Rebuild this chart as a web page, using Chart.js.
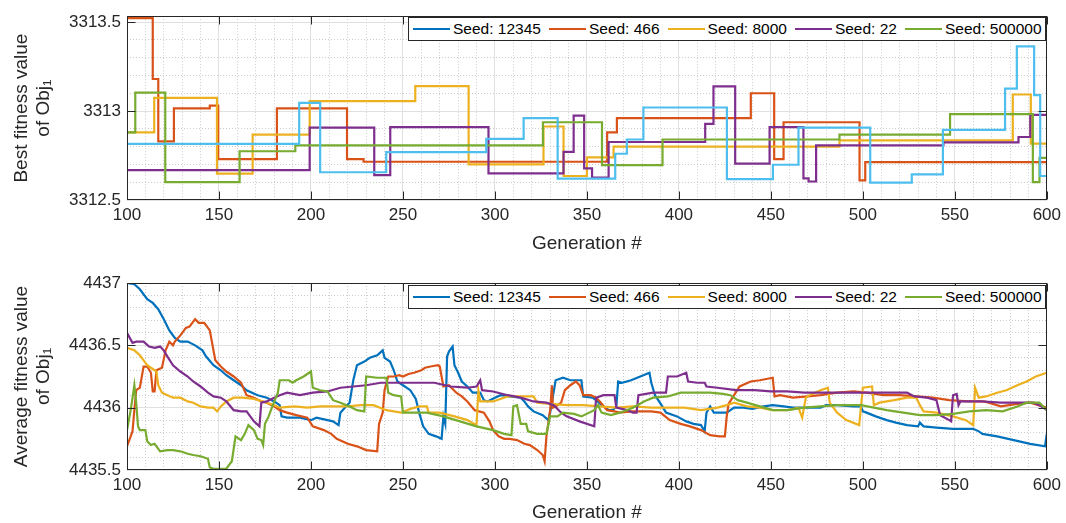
<!DOCTYPE html>
<html>
<head>
<meta charset="utf-8">
<script src="https://cdn.jsdelivr.net/npm/chart.js@4.4.0/dist/chart.umd.min.js"></script>
<style>
  body { margin: 0; background: #fff; width: 1066px; height: 523px; overflow: hidden;
         font-family: "Liberation Sans", Arial, Helvetica, sans-serif; }
  canvas { position: absolute; left: 0; }
  #bestChart { top: 0; }
  #avgChart { top: 262px; }
  .legend { position: absolute; left: 408px; width: 638px; height: 24px; box-sizing: border-box;
            border: 1px solid #262626; background: #fff; display: flex; align-items: center;
            padding-left: 4px; }
  #bestLegend { top: 17px; }
  #avgLegend { top: 285px; }
  .legend .item { display: flex; align-items: center; margin-right: 8px; white-space: nowrap;
                  font-size: 15.5px; color: #000; }
  .legend .item i { display: inline-block; width: 37px; height: 2px; margin-right: 3px; }
</style>
</head>
<body>
<canvas id="bestChart" width="1066" height="255"></canvas>
<canvas id="avgChart" width="1066" height="262"></canvas>
<div class="legend" id="bestLegend"></div>
<div class="legend" id="avgLegend"></div>
<script>
const seedLabels = ["Seed: 12345", "Seed: 466", "Seed: 8000", "Seed: 22", "Seed: 500000"];
const seedColors = ["#0072BD", "#D95319", "#EDB120", "#7E2F8E", "#77AC30"];
const cyan = "#4DBEEE";

const xTicks = [100, 150, 200, 250, 300, 350, 400, 450, 500, 550, 600];
const bestTicks = [3312.5, 3313, 3313.5];
const avgTicks = [4435.5, 4436, 4436.5, 4437];

// best fitness: generation where each level starts, and the level
const bestGen12345 = [100,193.6,205,240.9,295.3,315.6,334.1,365.4,371.7,380.7,426.1,451.1,465,504,526.6,543.5,577.3,583.7,593.1,596.4,600];
const best12345 = [3312.815,3313.046,3312.656,3312.769,3312.844,3312.96,3312.62,3312.76,3312.84,3313.02,3312.617,3312.698,3312.907,3312.598,3312.644,3312.894,3313.126,3313.363,3313.089,3312.635,3312.635];
const bestGen466 = [100,114,117,125.5,145,149.6,181.5,219.6,228.6,361,366.3,439.1,451.8,456.9,498.2,501.3,600];
const best466 = [3313.522,3313.18,3312.83,3313.015,3313.03,3312.73,3313.015,3312.73,3312.715,3312.88,3312.96,3313.10,3312.73,3312.937,3312.61,3312.713,3312.713];
const bestGen8000 = [100,114.8,148.9,168.3,199.3,256.7,285.7,326.4,337.3,350,364.5,487.3,581.5,591.3,600];
const best8000 = [3312.88,3313.074,3312.648,3312.867,3313.056,3313.14,3312.70,3312.913,3312.635,3312.74,3312.80,3312.835,3313.093,3312.817,3312.817];
const bestGen22 = [100,199.3,234.4,243.1,296.5,337.3,342.8,348.5,352.8,361.8,414.3,418.8,430.6,449.3,467.7,470.5,474.6,543.8,584.6,591,600];
const best22 = [3312.668,3312.907,3312.64,3312.91,3312.65,3312.77,3312.974,3312.678,3312.626,3312.826,3312.928,3313.139,3312.704,3312.91,3312.622,3312.604,3312.807,3312.824,3312.854,3312.978,3312.978];
const bestGen500000 = [100,104.5,120.8,161.2,191.5,326.1,358.2,391.1,487.3,547.4,592.4,596,600];
const best500000 = [3312.88,3313.104,3312.60,3312.774,3312.807,3312.937,3312.696,3312.84,3312.867,3312.983,3312.60,3312.737,3312.737];

// average fitness
const avgGen12345 = [100,104,107,111,114,117,120,123,126,129,133,137,141,143,147,151,154,158,162,165,171,176,180,183,184,187,194,200,203,209,212,215,216,219,221,223,225,229,232,236,239,240,243,245,247,250,254,257,259,261,264,268,271,272,273,274,275,277,278,280,282,285,288,292,294,296,300,303,308,314,316,318,321,326,329,330,333,337,341,347,348,353,355,358,362,364,366,367,369,374,379,384,385,387,391,393,399,404,408,412,414,415,417,419,426,430,435,440,446,451,457,462,470,477,480,486,495,499,500,502,507,513,518,524,530,531,533,540,549,560,563,565,573,582,591,599,600];
const avg12345 = [4437.00,4436.99,4436.95,4436.87,4436.84,4436.79,4436.71,4436.62,4436.56,4436.53,4436.53,4436.50,4436.46,4436.41,4436.34,4436.30,4436.26,4436.22,4436.18,4436.14,4436.10,4436.08,4436.05,4436.02,4435.93,4435.92,4435.92,4435.90,4435.92,4435.90,4435.89,4435.86,4435.96,4436.01,4436.04,4436.22,4436.34,4436.37,4436.40,4436.42,4436.46,4436.40,4436.37,4436.30,4436.21,4436.18,4436.14,4436.07,4435.95,4435.85,4435.79,4435.77,4435.75,4435.93,4435.87,4436.41,4436.45,4436.49,4436.34,4436.28,4436.21,4436.17,4436.12,4436.12,4436.06,4436.05,4436.08,4436.10,4436.09,4436.08,4436.05,4436.01,4435.97,4435.94,4435.90,4435.96,4436.22,4436.24,4436.22,4436.22,4436.09,4436.08,4436.06,4436.02,4435.98,4435.98,4436.01,4436.21,4436.20,4436.22,4436.25,4436.28,4436.20,4436.10,4436.01,4435.96,4435.93,4435.89,4435.87,4435.86,4435.81,4435.96,4436.01,4435.96,4435.96,4436.00,4436.00,4435.99,4436.01,4436.02,4436.01,4436.00,4436.00,4436.00,4436.02,4436.02,4436.01,4436.01,4435.97,4435.96,4435.93,4435.90,4435.88,4435.86,4435.85,4435.88,4435.85,4435.84,4435.83,4435.83,4435.81,4435.79,4435.77,4435.74,4435.71,4435.69,4435.79];
const avgGen466 = [100,103,104,105,107,109,111,113,114,115,116,119,121,123,125,126,129,132,134,137,139,142,145,148,151,154,158,162,165,169,173,176,180,183,187,192,198,201,207,211,214,220,225,230,236,237,239,240,242,245,248,250,253,256,260,262,265,269,270,272,275,279,282,285,289,294,297,299,302,305,308,312,316,319,323,326,327,328,330,331,331.5,333,336,338,341,344,346,348,352,355,357,361,365,368,374,379,385,390,395,401,406,412,417,422,425,426,427,430,433,439,444,451,452,455,462,470,477,486,495,502,511,520,529,538,547,557,566,575,584,591,600];
const avg466 = [4435.69,4435.81,4435.98,4436.14,4436.16,4436.33,4436.33,4436.28,4436.13,4436.13,4436.30,4436.32,4436.46,4436.53,4436.50,4436.53,4436.58,4436.64,4436.65,4436.71,4436.68,4436.68,4436.62,4436.38,4436.33,4436.29,4436.25,4436.20,4436.10,4436.08,4436.05,4436.04,4436.01,4435.98,4435.96,4435.94,4435.92,4435.85,4435.82,4435.79,4435.75,4435.71,4435.69,4435.66,4435.65,4435.87,4435.96,4436.14,4436.25,4436.25,4436.26,4436.25,4436.27,4436.28,4436.30,4436.32,4436.33,4436.34,4436.33,4436.17,4436.18,4436.12,4436.09,4436.05,4435.98,4435.96,4435.89,4435.82,4435.77,4435.75,4435.75,4435.74,4435.71,4435.70,4435.66,4435.62,4435.57,4435.77,4435.98,4436.18,4436.00,4436.01,4436.04,4436.14,4436.18,4436.21,4436.18,4436.10,4436.10,4436.08,4436.05,4435.98,4435.97,4435.96,4435.97,4435.97,4435.97,4435.96,4435.90,4435.87,4435.85,4435.82,4435.78,4435.77,4435.77,4435.93,4436.03,4436.10,4436.17,4436.21,4436.22,4436.24,4436.09,4436.10,4436.08,4436.09,4436.10,4436.12,4436.13,4436.12,4436.10,4436.10,4436.09,4436.08,4436.06,4436.05,4436.05,4436.01,4436.03,4436.04,4436.00];
const avgGen8000 = [100,104,107,111,115,116,117,119,122,125,129,133,136,140,144,147,149,151,154,158,163,169,174,180,183,191,198,205,212,220,227,234,241,249,254,259,263,264,270,278,285,290,291,292,299,307,314,321,323,330,339,348,357,366,375,385,394,403,412,421,426,430,437,444,451,459,465,467,469,471,477,481,482,486,491,498,500,505,506,509,517,524,529,531,533,540,549,556,560,561,563,567,573,578,584,589,594,596,600];
const avg8000 = [4436.48,4436.46,4436.42,4436.34,4436.30,4436.29,4436.18,4436.12,4436.10,4436.08,4436.08,4436.05,4436.04,4436.01,4436.00,4436.00,4435.97,4436.01,4436.05,4436.08,4436.08,4436.07,4436.05,4436.02,4436.00,4436.01,4436.00,4436.01,4436.01,4436.01,4436.02,4436.02,4435.98,4435.96,4435.99,4436.01,4436.01,4435.96,4435.96,4435.93,4435.90,4435.86,4436.14,4436.05,4436.05,4436.09,4436.09,4436.09,4436.04,4436.03,4436.02,4436.02,4436.01,4436.00,4436.01,4436.00,4436.00,4436.00,4435.98,4436.00,4436.02,4436.04,4436.01,4436.00,4435.98,4435.98,4436.00,4435.92,4436.08,4436.10,4436.14,4436.16,4436.04,4435.96,4435.90,4435.86,4436.16,4436.17,4436.02,4436.04,4436.06,4436.08,4436.08,4436.02,4435.97,4435.96,4435.93,4435.90,4435.86,4436.16,4436.08,4436.09,4436.12,4436.14,4436.18,4436.21,4436.25,4436.26,4436.28];
const avgGen22 = [100,103,105,109,112,115,118,120,122,125,129,133,136,140,144,147,151,154,158,162,165,169,172,173,176,180,183,187,194,201,209,216,223,230,238,245,252,258,267,276,285,290,292,293,299,307,314,321,328,332,336,339,346,354,355,359,365,366,372,375,377,378,386,393,394,399,404,405,410,414,415,421,431,441,450,459,468,477,486,495,504,513,524,528,535,540,542,547,548,549,551,552,553,564,575,585,593,596,600];
const avg22 = [4436.60,4436.52,4436.53,4436.53,4436.49,4436.48,4436.49,4436.46,4436.41,4436.34,4436.29,4436.25,4436.21,4436.17,4436.12,4436.09,4436.08,4436.05,4435.98,4435.97,4435.97,4435.89,4435.85,4436.04,4436.05,4436.08,4436.10,4436.12,4436.10,4436.12,4436.13,4436.16,4436.17,4436.18,4436.20,4436.20,4436.20,4436.20,4436.20,4436.17,4436.16,4436.17,4436.22,4436.14,4436.13,4436.10,4436.08,4436.05,4436.04,4436.02,4435.96,4435.93,4435.89,4435.85,4436.08,4436.10,4436.10,4436.00,4435.98,4435.96,4435.96,4436.10,4436.12,4436.12,4436.25,4436.25,4436.28,4436.21,4436.20,4436.20,4436.17,4436.16,4436.14,4436.14,4436.13,4436.13,4436.12,4436.12,4436.12,4436.12,4436.12,4436.12,4436.12,4436.09,4436.08,4436.06,4435.94,4435.90,4435.89,4436.10,4436.11,4436.02,4436.05,4436.05,4436.04,4436.04,4436.04,4436.02,4435.98];
const avgGen500000 = [100,102,104,105,106,107,110,111,113,115,116,118,122,125,129,133,136,140,144,145,147,151,154,157,159,162,164,166,169,171,173,174,175,177,179,182,183,185,188,190,192,196,200,201,205,209,212,216,221,225,229,230,236,241,242,245,249,250,254,263,272,281,290,299,305,309,310,312,314,317,318,323,328,330,334,337,343,347,354,356,358,363,368,375,381,386,394,401,408,417,424,428,432,437,444,451,459,468,477,486,499,506,513,522,531,540,549,558,567,576,584,589,596,598,600];
const avg500000 = [4435.82,4435.98,4436.18,4436.04,4435.85,4435.82,4435.82,4435.73,4435.70,4435.71,4435.69,4435.65,4435.66,4435.66,4435.65,4435.63,4435.62,4435.61,4435.59,4435.52,4435.51,4435.51,4435.51,4435.57,4435.77,4435.74,4435.79,4435.86,4435.82,4435.75,4435.74,4435.70,4435.87,4435.93,4436.01,4436.12,4436.22,4436.22,4436.22,4436.20,4436.22,4436.25,4436.29,4436.16,4436.14,4436.13,4436.06,4436.04,4436.01,4435.98,4435.97,4436.25,4436.24,4436.24,4436.12,4436.10,4436.09,4435.96,4435.96,4435.96,4435.93,4435.89,4435.85,4435.82,4435.79,4435.78,4436.01,4436.02,4435.87,4435.87,4435.81,4435.79,4435.79,4435.93,4435.93,4435.96,4435.95,4435.93,4435.98,4436.02,4435.96,4435.94,4435.96,4436.00,4436.05,4436.08,4436.09,4436.12,4436.12,4436.12,4436.11,4436.10,4436.06,4436.04,4436.01,4435.98,4435.98,4436.00,4436.01,4436.02,4436.02,4436.00,4435.98,4435.96,4435.94,4435.94,4435.95,4435.97,4435.98,4435.97,4436.01,4436.04,4436.04,4436.01,4435.98];

Chart.defaults.font.family = '"Liberation Sans", Arial, Helvetica, sans-serif';
Chart.defaults.color = "#262626";

function pts(gens, vals) {
  return gens.map((g, i) => ({ x: g, y: vals[i] }));
}

function minorTicks(min, max, step, majors) {
  const out = [];
  const n = Math.round((max - min) / step);
  for (let k = 0; k <= n; k++) {
    const v = Math.round((min + k * step) * 1000) / 1000;
    if (v > max) break;
    if (!majors.some(m => Math.abs(m - v) < 1e-6)) out.push({ value: v });
  }
  return out;
}

// axes box with inward tick marks, like MATLAB "box on"
const axesBox = {
  id: "axesBox",
  afterDraw(chart) {
    const { ctx, chartArea: a, scales } = chart;
    const l = Math.round(a.left) + 0.5, r = Math.round(a.right) - 0.5;
    const t = Math.round(a.top) + 0.5, b = Math.round(a.bottom) - 0.5;
    ctx.save();
    ctx.strokeStyle = "#262626";
    ctx.lineWidth = 1;
    ctx.strokeRect(l, t, r - l, b - t);
    ctx.beginPath();
    scales.x.ticks.forEach(tk => {
      const px = Math.round(scales.x.getPixelForValue(tk.value)) + 0.5;
      ctx.moveTo(px, b); ctx.lineTo(px, b - 8);
      ctx.moveTo(px, t); ctx.lineTo(px, t + 8);
    });
    scales.y.ticks.forEach(tk => {
      const py = Math.round(scales.y.getPixelForValue(tk.value)) + 0.5;
      if (py < t || py > b) return;
      ctx.moveTo(l, py); ctx.lineTo(l + 8, py);
      ctx.moveTo(r, py); ctx.lineTo(r - 8, py);
    });
    ctx.stroke();
    ctx.restore();
  }
};

function fitnessChart(id, cfg) {
  return new Chart(document.getElementById(id), {
    type: "line",
    data: { datasets: cfg.datasets },
    options: {
      responsive: false,
      animation: false,
      layout: { padding: { top: cfg.padTop, right: 18, left: 0, bottom: 0 } },
      plugins: { legend: { display: false }, tooltip: { enabled: false } },
      elements: { point: { radius: 0 }, line: { borderWidth: 2.2, tension: 0 } },
      scales: {
        x: {
          type: "linear", position: "bottom", min: 100, max: 600,
          afterBuildTicks: s => { s.ticks = xTicks.map(v => ({ value: v })); },
          afterFit: s => { s.height = cfg.xAxisH; },
          grid: { color: "#e0e0e0", drawTicks: false },
          border: { display: false },
          ticks: { padding: 5, font: { size: 17 }, maxRotation: 0, autoSkip: false },
          title: { display: true, text: "Generation #", font: { size: 19 }, padding: 0 }
        },
        xMinor: {
          type: "linear", position: "bottom", min: 100, max: 600,
          afterBuildTicks: s => { s.ticks = minorTicks(100, 600, 10, xTicks); },
          afterFit: s => { s.height = 0; },
          grid: { color: "#cccccc", drawTicks: false },
          border: { display: false, dash: [1, 2] },
          ticks: { display: false }
        },
        y: {
          type: "linear", position: "left", min: cfg.yMin, max: cfg.yMax,
          afterBuildTicks: s => { s.ticks = cfg.yTicks.map(v => ({ value: v })); },
          afterFit: s => { s.width = 127; },
          grid: { color: "#e0e0e0", drawTicks: false },
          border: { display: false },
          ticks: { padding: 6, font: { size: 17 }, autoSkip: false, callback: v => String(v) },
          title: { display: true, text: cfg.yTitle, font: { size: 19 }, padding: { top: 10, bottom: 0 } }
        },
        yMinor: {
          type: "linear", position: "left", min: cfg.yMin, max: cfg.yMax,
          afterBuildTicks: s => { s.ticks = minorTicks(cfg.yTicks[0], cfg.yTicks[cfg.yTicks.length - 1], 0.1, cfg.yTicks); },
          afterFit: s => { s.width = 0; },
          grid: { color: "#cccccc", drawTicks: false },
          border: { display: false, dash: [1, 2] },
          ticks: { display: false }
        }
      }
    },
    plugins: [axesBox]
  });
}

fitnessChart("bestChart", {
  padTop: 14, xAxisH: 55,
  yMin: 3312.5, yMax: 3313.533, yTicks: bestTicks,
  yTitle: ["Best fitness value", "of Obj\u2081"],
  datasets: [
    { data: pts(bestGen466, best466), borderColor: seedColors[1], stepped: true, order: 5 },
    { data: pts(bestGen8000, best8000), borderColor: seedColors[2], stepped: true, order: 4 },
    { data: pts(bestGen22, best22), borderColor: seedColors[3], stepped: true, order: 3 },
    { data: pts(bestGen500000, best500000), borderColor: seedColors[4], stepped: true, order: 2 },
    { data: pts(bestGen12345, best12345), borderColor: cyan, stepped: true, order: 1 }
  ]
});

fitnessChart("avgChart", {
  padTop: 21, xAxisH: 54,
  yMin: 4435.5, yMax: 4437, yTicks: avgTicks,
  yTitle: ["Average fitness value", "of Obj\u2081"],
  datasets: [
    { data: pts(avgGen12345, avg12345), borderColor: seedColors[0], order: 5 },
    { data: pts(avgGen466, avg466), borderColor: seedColors[1], order: 4 },
    { data: pts(avgGen8000, avg8000), borderColor: seedColors[2], order: 3 },
    { data: pts(avgGen22, avg22), borderColor: seedColors[3], order: 2 },
    { data: pts(avgGen500000, avg500000), borderColor: seedColors[4], order: 1 }
  ]
});

function buildLegend(id) {
  const box = document.getElementById(id);
  seedLabels.forEach((label, i) => {
    const item = document.createElement("span");
    item.className = "item";
    const swatch = document.createElement("i");
    swatch.style.background = seedColors[i];
    item.appendChild(swatch);
    item.appendChild(document.createTextNode(label));
    box.appendChild(item);
  });
}
buildLegend("bestLegend");
buildLegend("avgLegend");
</script>
</body>
</html>
